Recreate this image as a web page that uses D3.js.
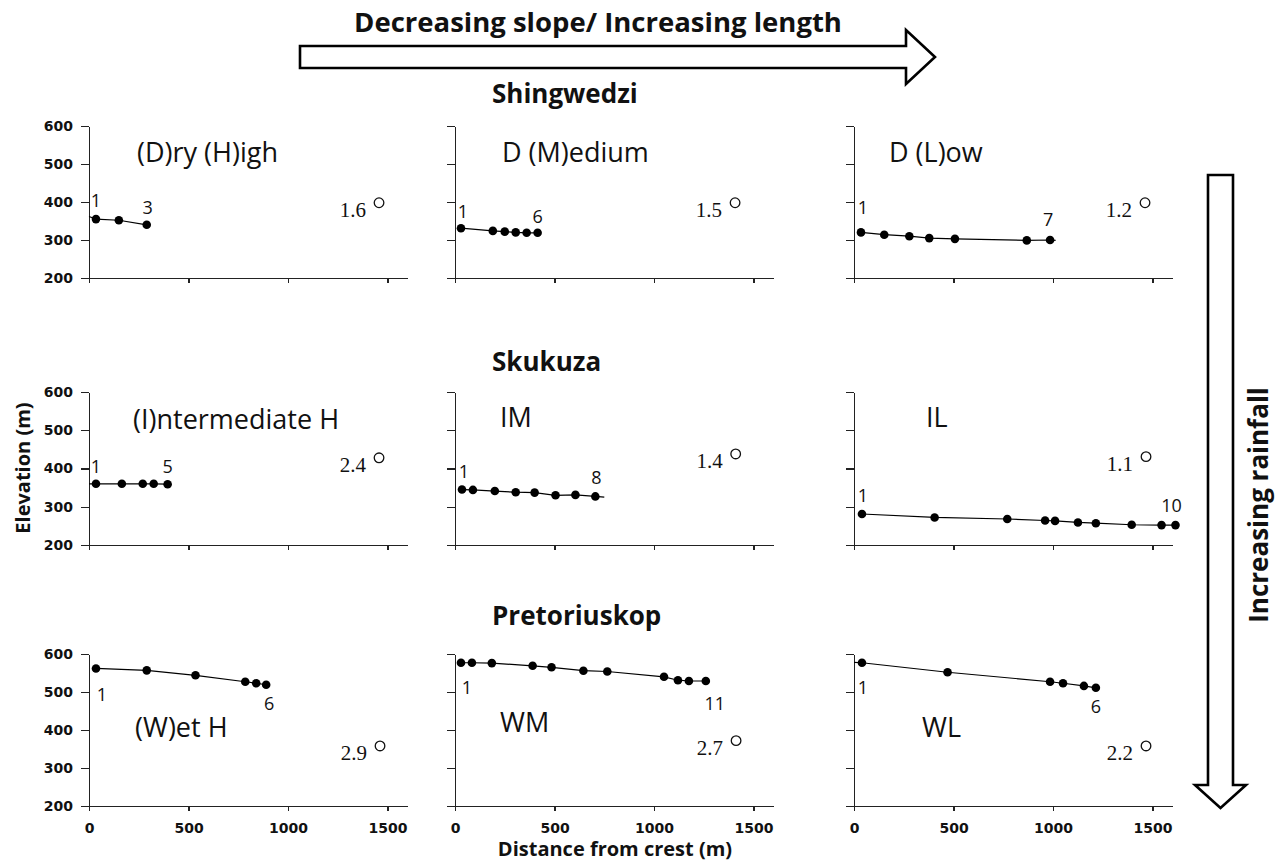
<!DOCTYPE html>
<html>
<head>
<meta charset="utf-8">
<script src="https://cdn.jsdelivr.net/npm/d3@7"></script>
<style>
  body { margin: 0; background: #fff; }
  svg { display: block; }
  .axis path, .axis line { stroke: #222; stroke-width: 1.3; shape-rendering: crispEdges; }
  .axis text { font-family: "DejaVu Sans"; font-weight: bold; font-size: 14px; fill: #111; }
  .head { font-family: "Open Sans"; font-weight: bold; font-size: 26px; fill: #111; }
  .title { font-size: 27.5px; }
  .pname { font-family: "Open Sans"; font-size: 27px; fill: #111; }
  .num { font-family: "Open Sans"; font-size: 18px; fill: #111; }
  .ang { font-family: "Liberation Serif"; font-size: 21px; fill: #111; }
  .atitle { font-family: "Open Sans"; font-weight: bold; font-size: 20px; fill: #111; }
</style>
</head>
<body>
<svg id="fig" width="1285" height="864"></svg>
<script>

// ---- values ----
var siteNames = ['Shingwedzi', 'Skukuza', 'Pretoriuskop'];
var panelNames = ['(D)ry (H)igh', 'D (M)edium', 'D (L)ow',
                  '(I)ntermediate H', 'IM', 'IL',
                  '(W)et H', 'WM', 'WL'];
var slopeDeg = [1.6, 1.5, 1.2, 2.4, 1.4, 1.1, 2.9, 2.7, 2.2];

// distance from crest (m) / elevation (m) of the sampling points
var distDH = [35, 150, 290];
var elevDH = [355, 352, 340];
var distDM = [30, 190, 250, 305, 360, 415];
var elevDM = [331, 324, 322, 320, 319, 319];
var distDL = [35, 152, 278, 378, 507, 868, 985];
var elevDL = [320, 314, 310, 305, 303, 299, 300];
var distIH = [35, 165, 270, 325, 395];
var elevIH = [360, 360, 360, 360, 359];
var distIM = [35, 90, 200, 305, 400, 505, 605, 705];
var elevIM = [345, 344, 341, 338, 337, 330, 331, 327];
var distIL = [40, 405, 770, 960, 1010, 1125, 1215, 1395, 1545, 1615];
var elevIL = [281, 272, 268, 264, 263, 259, 257, 253, 252, 252];
var distWH = [35, 290, 535, 785, 840, 890];
var elevWH = [562, 557, 544, 527, 523, 519];
var distWM = [30, 85, 185, 390, 485, 645, 765, 1050, 1120, 1175, 1260];
var elevWM = [577, 577, 576, 569, 565, 556, 554, 540, 531, 529, 529];
var distWL = [40, 470, 985, 1050, 1155, 1215];
var elevWL = [577, 552, 527, 523, 516, 511];

// the profile line runs a little past the points in some panels
var profileStart = [[0, 362], null, null, [0, 360], null, null, null, null, [0, 578]];
var profileEnd = [null, null, [1013, 299], null, [750, 325], null, null, null, null];

var xTicks = [0, 500, 1000, 1500];
var yTicks = [200, 300, 400, 500, 600];
var xDomain = [0, 1600];
var yDomain = [200, 600];

var dists = [distDH, distDM, distDL, distIH, distIM, distIL, distWH, distWM, distWL];
var elevs = [elevDH, elevDM, elevDL, elevIH, elevIM, elevIL, elevWH, elevWM, elevWL];

// ---- layout ----
var colX = [89, 455, 854];
var plotW = 318.5;
var rowTop = [126, 392, 654];
var rowBottom = [278, 545, 806];
var headingX = 492;
var headingY = [103, 371, 625];
// panel name: offset from the plot's top-left corner (px)
var nameOffset = [[48, 36], [47, 36], [35, 36], [44, 37], [45, 35], [72, 35], [46, 83], [45, 78], [68, 83]];
// degree circle, in data units
var anglePos = [[1457, 398], [1407, 398], [1462, 398], [1457, 428], [1410, 438],
                [1467, 431], [1462, 358], [1412, 372], [1467, 358]];
// number labels: [dx,dy] of first and last from their point (px)
var numOffset = [
  [[0, -12], [1, -11]], [[2, -10], [0, -10]], [[2, -18], [-2, -14]],
  [[0, -11], [0, -11]], [[2, -12], [1, -12]], [[1, -12], [-4, -13]],
  [[6, 33], [3, 25]], [[6, 31], [9, 29]], [[1, 31], [0, 25]]
];

var svg = d3.select('#fig');

// title arrow across the top
var hArrow = [[300, 46], [906, 46], [906, 30], [935, 57], [906, 84], [906, 68], [300, 68]];
svg.append('path')
  .attr('d', d3.line()(hArrow) + 'Z')
  .attr('fill', '#fff').attr('stroke', '#000').attr('stroke-width', 2.6)
  .attr('stroke-linejoin', 'miter');
svg.append('text').attr('class', 'head title')
  .attr('x', 598).attr('y', 32).attr('text-anchor', 'middle')
  .text('Decreasing slope/ Increasing length');

// rainfall arrow down the right side
var vArrow = [[1208, 175], [1233, 175], [1233, 785], [1246, 785], [1220.5, 808], [1195, 785], [1208, 785]];
svg.append('path')
  .attr('d', d3.line()(vArrow) + 'Z')
  .attr('fill', '#fff').attr('stroke', '#000').attr('stroke-width', 2.6);
svg.append('text').attr('class', 'head')
  .attr('transform', 'translate(1268,505) rotate(-90)')
  .attr('text-anchor', 'middle')
  .text('Increasing rainfall');

siteNames.forEach(function(s, r) {
  svg.append('text').attr('class', 'head')
    .attr('x', headingX).attr('y', headingY[r]).text(s);
});

var line = d3.line();

panelNames.forEach(function(name, i) {
  var r = Math.floor(i / 3), c = i % 3;
  var x = d3.scaleLinear().domain(xDomain).range([colX[c], colX[c] + plotW]);
  var y = d3.scaleLinear().domain(yDomain).range([rowBottom[r], rowTop[r]]);
  var g = svg.append('g');

  var yAxis = d3.axisLeft(y).tickValues(yTicks).tickSize(8).tickPadding(8)
    .tickSizeOuter(0).tickFormat(c > 0 ? '' : d3.format('d'));
  g.append('g').attr('class', 'axis')
    .attr('transform', 'translate(' + colX[c] + ',0)')
    .call(yAxis);

  var xAxis = d3.axisBottom(x).tickValues(xTicks).tickSize(5).tickPadding(12)
    .tickSizeOuter(0).tickFormat(r < 2 ? '' : d3.format('d'));
  g.append('g').attr('class', 'axis')
    .attr('transform', 'translate(0,' + rowBottom[r] + ')')
    .call(xAxis);

  var pts = dists[i].map(function(d, k) { return [d, elevs[i][k]]; });
  var prof = pts.slice();
  if (profileStart[i]) prof.unshift(profileStart[i]);
  if (profileEnd[i]) prof.push(profileEnd[i]);

  g.append('path')
    .attr('d', line(prof.map(function(p) { return [x(p[0]), y(p[1])]; })))
    .attr('fill', 'none').attr('stroke', '#000').attr('stroke-width', 1.2);

  g.selectAll('circle.pt').data(pts).enter().append('circle')
    .attr('class', 'pt')
    .attr('cx', function(p) { return x(p[0]); })
    .attr('cy', function(p) { return y(p[1]); })
    .attr('r', 4.3).attr('fill', '#000');

  // first / last point numbers
  var first = pts[0], last = pts[pts.length - 1];
  g.append('text').attr('class', 'num').attr('text-anchor', 'middle')
    .attr('x', x(first[0]) + numOffset[i][0][0])
    .attr('y', y(first[1]) + numOffset[i][0][1])
    .text('1');
  g.append('text').attr('class', 'num').attr('text-anchor', 'middle')
    .attr('x', x(last[0]) + numOffset[i][1][0])
    .attr('y', y(last[1]) + numOffset[i][1][1])
    .text(pts.length);

  g.append('text').attr('class', 'pname')
    .attr('x', colX[c] + nameOffset[i][0])
    .attr('y', rowTop[r] + nameOffset[i][1])
    .text(name);

  // mean slope angle
  var ax = x(anglePos[i][0]), ay = y(anglePos[i][1]);
  g.append('circle').attr('cx', ax).attr('cy', ay).attr('r', 4.8)
    .attr('fill', 'none').attr('stroke', '#111').attr('stroke-width', 1.3);
  g.append('text').attr('class', 'ang').attr('text-anchor', 'end')
    .attr('x', ax - 13).attr('y', ay + 14)
    .text(slopeDeg[i].toFixed(1));
});

// axis titles
svg.append('text').attr('class', 'atitle')
  .attr('transform', 'translate(30,468) rotate(-90)')
  .attr('text-anchor', 'middle')
  .text('Elevation (m)');
svg.append('text').attr('class', 'atitle')
  .attr('x', 615).attr('y', 856).attr('text-anchor', 'middle')
  .text('Distance from crest (m)');

</script>
</body>
</html>
